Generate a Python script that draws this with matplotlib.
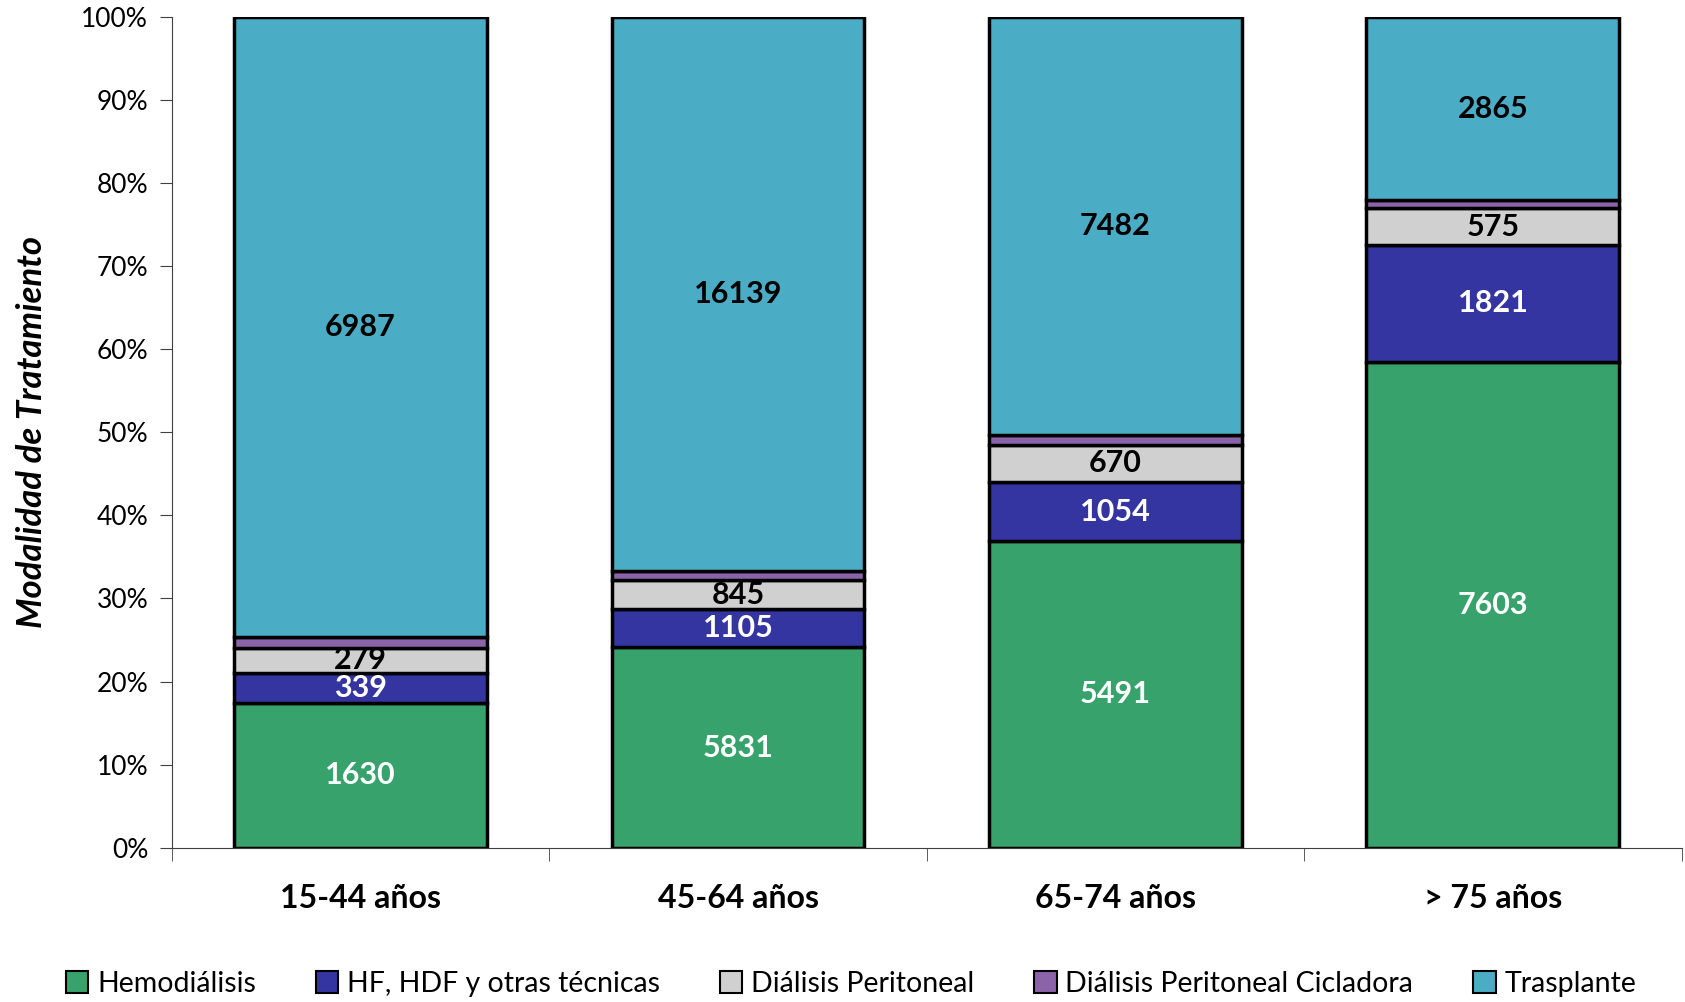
import numpy as np
from matplotlib import pyplot as plt
from matplotlib.patches import Patch

plt.rcParams['font.family'] = ['Lato', 'DejaVu Sans']

groups = ['15-44 años', '45-64 años', '65-74 años', '> 75 años']
series = ['Hemodiálisis', 'HF, HDF y otras técnicas', 'Diálisis Peritoneal',
          'Diálisis Peritoneal Cicladora', 'Trasplante']
hemodialisis = [1630, 5831, 5491, 7603]
hf_hdf = [339, 1105, 1054, 1821]
dp = [279, 845, 670, 575]
dp_cicladora = [120, 260, 175, 130]   # no labels in the original, estimated from heights
trasplante = [6987, 16139, 7482, 2865]

colors = ['#37A26B', '#3535A1', '#D0D0D0', '#8A63A8', '#4BACC6']
text_colors = ['white', 'white', 'black', None, 'black']

values = np.array([hemodialisis, hf_hdf, dp, dp_cicladora, trasplante], dtype=float)
totals = values.sum(axis=0)
pct = values / totals * 100

fig = plt.figure(figsize=(16.85, 10.02), dpi=100)
ax = fig.add_axes([0.102, 0.154, 0.896, 0.829])

x = np.arange(len(groups))
bottom = np.zeros(len(groups))
for i, name in enumerate(series):
    ax.bar(x, pct[i], 0.67, bottom=bottom, color=colors[i], edgecolor='black',
           linewidth=2.5, label=name, zorder=2)
    if text_colors[i]:
        for j in range(len(groups)):
            ax.text(x[j], bottom[j] + pct[i][j] / 2, f'{int(values[i][j])}',
                    ha='center', va='center', fontsize=22, fontweight='bold',
                    color=text_colors[i], zorder=3)
    bottom += pct[i]

ax.set_xlim(-0.5, 3.5)
ax.set_ylim(0, 100)
ax.set_yticks(np.arange(0, 101, 10))
ax.set_yticklabels([f'{v}%' for v in range(0, 101, 10)], fontsize=19)
ax.set_xticks(x)
ax.set_xticklabels(groups, fontsize=23, fontweight='bold')
ax.set_xticks(np.arange(-0.5, 4, 1), minor=True)
ax.tick_params(axis='x', which='major', length=0, pad=26)
ax.tick_params(axis='x', which='minor', length=9, color='#404040')
ax.tick_params(axis='y', length=9, color='#404040', pad=8)
for side in ['top', 'right']:
    ax.spines[side].set_visible(False)
ax.spines['left'].set_color('#404040')
ax.spines['bottom'].set_color('#404040')
ax.set_ylabel('Modalidad de Tratamiento', fontsize=25, fontweight='bold',
              fontstyle='italic')
ax.yaxis.set_label_coords(-0.082, 0.5)

handles = [Patch(facecolor=c, edgecolor='black', linewidth=1.5) for c in colors]
fig.legend(handles, series, loc='center', bbox_to_anchor=(0.505, 0.018), ncol=5,
           frameon=False, fontsize=20.5, handlelength=0.8, handleheight=0.8,
           handletextpad=0.3, columnspacing=2.1)

fig.savefig('out.png', dpi=100)
